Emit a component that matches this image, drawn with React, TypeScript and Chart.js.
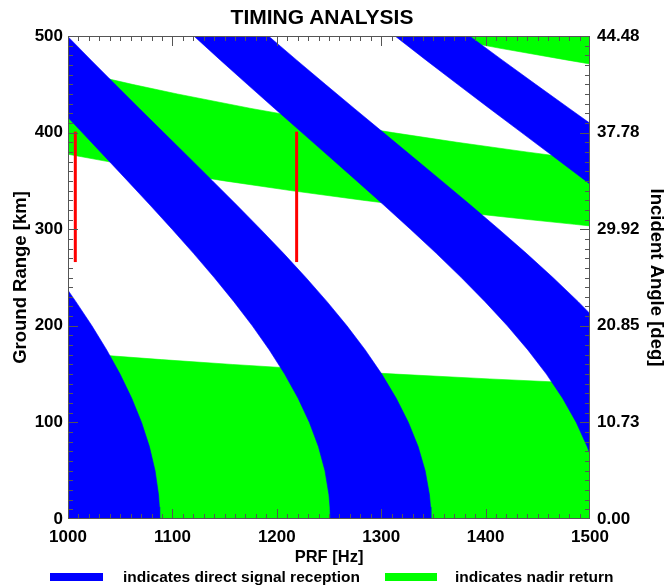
import React, { useEffect, useRef } from "react";
import { Chart, registerables } from "chart.js";

Chart.register(...registerables);

type Pt = [number, number];

// axis values
const prfTicks = [1000, 1100, 1200, 1300, 1400, 1500];
const rangeTicks = [0, 100, 200, 300, 400, 500];
const angleLabels = ["0.00", "10.73", "20.85", "29.92", "37.78", "44.48"];

// blue bands: direct signal reception (outline points, PRF [Hz] / ground range [km])
const blueA: Pt[] = [
  [1000, 0], [1000, 236.8], [1007.53, 225], [1022.91, 200], [1037.09, 175],
  [1049.86, 150], [1061.04, 125], [1070.46, 100], [1077.96, 75], [1083.42, 50],
  [1086.74, 25], [1087.56, 12.5], [1087.85, 0],
];
const blueB: Pt[] = [
  [999.4, 500], [1022.06, 475], [1045.06, 450], [1068.3, 425], [1091.69, 400],
  [1115.15, 375], [1138.51, 350], [1161.63, 325], [1184.36, 300], [1206.49, 275],
  [1227.8, 250], [1248.12, 225], [1267.16, 200], [1284.72, 175], [1300.54, 150],
  [1314.39, 125], [1326.06, 100], [1335.36, 75], [1342.11, 50], [1346.22, 25],
  [1347.25, 12.5], [1347.61, 0],
  [1251.23, 0], [1250.91, 12.5], [1249.95, 25], [1246.14, 50], [1239.86, 75],
  [1231.23, 100], [1220.4, 125], [1207.54, 150], [1192.85, 175], [1176.55, 200],
  [1158.86, 225], [1140.01, 250], [1120.21, 275], [1099.67, 300], [1078.56, 325],
  [1057.09, 350], [1035.4, 375], [1013.63, 400], [1000, 415.7], [999.4, 415.7],
];
const blueC: Pt[] = [
  [1120.57, 500], [1145.98, 475], [1171.75, 450], [1197.82, 425], [1224.06, 400],
  [1250.35, 375], [1276.54, 350], [1302.47, 325], [1327.95, 300], [1352.77, 275],
  [1376.67, 250], [1399.44, 225], [1420.8, 200], [1440.49, 175], [1458.22, 150],
  [1473.74, 125], [1486.83, 100], [1497.27, 75], [1500, 67],
  [1500, 212.6], [1488.69, 225], [1464.48, 250], [1439.04, 275], [1412.65, 300],
  [1385.54, 325], [1357.96, 350], [1330.08, 375], [1302.12, 400], [1274.21, 425],
  [1246.48, 450], [1219.07, 475], [1192.04, 500],
];
const blueD: Pt[] = [
  [1313.21, 500], [1342.98, 475], [1373.19, 450], [1403.72, 425], [1434.48, 400],
  [1465.28, 375], [1495.99, 350], [1500, 346.6],
  [1500, 409.6], [1480.13, 425], [1447.92, 450], [1416.07, 475], [1384.67, 500],
];

// green bands: nadir return
const greenG1: Pt[] = [
  [1000, 465.2], [1061.4, 450], [1104.7, 440], [1175.3, 425], [1253.7, 410],
  [1310.9, 400], [1372.5, 390], [1438.9, 380], [1474.1, 375], [1500, 371.4],
  [1500, 303.4], [1485.4, 305], [1440.8, 310], [1398.3, 315], [1357.8, 320],
  [1319.1, 325], [1282.2, 330], [1213.2, 340], [1149.9, 350], [1091.8, 360],
  [1038.3, 370], [1013.1, 375], [1000, 377.6],
];
const greenG2: Pt[] = [
  [1351.7, 500], [1412.7, 487.5], [1478.5, 475], [1500, 471.05], [1500, 500],
];
const greenG3: Pt[] = [
  [1000, 0], [1000, 172.4], [1027.7, 170], [1089.7, 165], [1157.3, 160],
  [1231.6, 155], [1313.7, 150], [1404.0, 145], [1483.5, 141], [1500, 140.2],
  [1500, 0],
];

// red markers
const markerPRF = [1007, 1219];
const markerRange = [266, 401];

const BLUE = "#0000ff";
const GREEN = "#00ff00";
const RED = "#ff0000";
const FONT = "'Liberation Sans', Arial, Helvetica, sans-serif";

const toXY = (pts: Pt[]) => pts.map(([x, y]) => ({ x, y }));

const poly = (pts: Pt[], color: string) => ({
  data: toXY(pts),
  showLine: true,
  fill: "shape",
  backgroundColor: color,
  borderColor: color,
  borderWidth: 0.6,
  pointRadius: 0,
  tension: 0,
});

const frameTicks = {
  id: "frameTicks",
  afterDatasetsDraw(chart: any) {
    const { ctx, chartArea: a, scales } = chart;
    const sx = scales.x;
    const sy = scales.y;
    ctx.save();
    ctx.strokeStyle = "#555";
    ctx.lineWidth = 1;
    ctx.beginPath();
    for (let v = sx.min + 10; v < sx.max; v += 10) {
      const px = Math.round(sx.getPixelForValue(v)) + 0.5;
      const len = v % 100 === 0 ? 10 : 5;
      ctx.moveTo(px, a.bottom);
      ctx.lineTo(px, a.bottom - len);
      ctx.moveTo(px, a.top);
      ctx.lineTo(px, a.top + len);
    }
    for (let v = sy.min + 10; v < sy.max; v += 10) {
      const py = Math.round(sy.getPixelForValue(v)) + 0.5;
      const len = v % 100 === 0 ? 10 : 5;
      ctx.moveTo(a.left, py);
      ctx.lineTo(a.left + len, py);
      ctx.moveTo(a.right, py);
      ctx.lineTo(a.right - len, py);
    }
    ctx.stroke();
    ctx.strokeRect(a.left + 0.5, a.top + 0.5, a.right - a.left - 1, a.bottom - a.top - 1);
    ctx.restore();
  },
};

export default function App() {
  const ref = useRef<HTMLCanvasElement>(null);

  useEffect(() => {
    const redSets = markerPRF.map((p) => ({
      data: markerRange.map((r) => ({ x: p, y: r })),
      showLine: true,
      fill: false,
      borderColor: RED,
      backgroundColor: RED,
      borderWidth: 3,
      pointRadius: 0,
      borderCapStyle: "butt",
    }));

    const chart = new Chart(ref.current as HTMLCanvasElement, {
      type: "scatter",
      data: {
        datasets: [
          ...redSets,
          poly(blueA, BLUE),
          poly(blueB, BLUE),
          poly(blueC, BLUE),
          poly(blueD, BLUE),
          poly(greenG1, GREEN),
          poly(greenG2, GREEN),
          poly(greenG3, GREEN),
        ] as any,
      },
      options: {
        responsive: false,
        animation: false,
        events: [],
        layout: { padding: { top: 36, left: 0, right: 0, bottom: 0 } },
        font: { family: FONT },
        plugins: {
          legend: { display: false },
          tooltip: { enabled: false },
          title: { display: false },
        },
        scales: {
          x: {
            type: "linear",
            min: 1000,
            max: 1500,
            afterBuildTicks: (s: any) => {
              s.ticks = prfTicks.map((v) => ({ value: v }));
            },
            afterFit: (s: any) => {
              s.height = 69;
            },
            grid: { display: false, drawTicks: false },
            border: { display: false },
            ticks: {
              color: "#000",
              padding: 8,
              maxRotation: 0,
              autoSkip: false,
              font: { family: FONT, size: 17, weight: "bold" },
              callback: (v: any) => String(v),
            },
            title: {
              display: true,
              text: "PRF [Hz]",
              color: "#000",
              font: { family: FONT, size: 16.5, weight: "bold" },
              padding: { top: 0, bottom: 21 },
            },
          },
          y: {
            type: "linear",
            position: "left",
            min: 0,
            max: 500,
            afterBuildTicks: (s: any) => {
              s.ticks = rangeTicks.map((v) => ({ value: v }));
            },
            afterFit: (s: any) => {
              s.width = 68;
            },
            grid: { display: false, drawTicks: false },
            border: { display: false },
            ticks: {
              color: "#000",
              padding: 5,
              font: { family: FONT, size: 17, weight: "bold" },
              callback: (v: any) => String(v),
            },
            title: {
              display: true,
              text: "Ground Range [km]",
              color: "#000",
              font: { family: FONT, size: 18.5, weight: "bold" },
              padding: { top: 10, bottom: 0 },
            },
          },
          y2: {
            type: "linear",
            position: "right",
            min: 0,
            max: 500,
            afterBuildTicks: (s: any) => {
              s.ticks = rangeTicks.map((v) => ({ value: v }));
            },
            afterFit: (s: any) => {
              s.width = 78;
            },
            grid: { display: false, drawTicks: false },
            border: { display: false },
            ticks: {
              color: "#000",
              padding: 7,
              font: { family: FONT, size: 17, weight: "bold" },
              callback: (_v: any, i: number) => angleLabels[i],
            },
            title: {
              display: true,
              text: "Incident Angle [deg]",
              color: "#000",
              font: { family: FONT, size: 18.5, weight: "bold" },
              padding: { top: 1, bottom: 0 },
            },
          },
        },
      } as any,
      plugins: [frameTicks],
    });
    return () => chart.destroy();
  }, []);

  const legendText: React.CSSProperties = {
    position: "absolute",
    top: 569,
    height: 16,
    lineHeight: "16px",
    fontFamily: FONT,
    fontWeight: "bold",
    fontSize: 15.5,
    color: "#000",
    whiteSpace: "nowrap",
  };

  return (
    <div style={{ position: "fixed", left: 0, top: 0, width: 668, height: 588, background: "#fff", overflow: "hidden" }}>
      <canvas ref={ref} width={668} height={588} style={{ display: "block", width: 668, height: 588 }} />
      <div
        style={{
          position: "absolute",
          left: 0,
          top: 5,
          width: 644,
          height: 24,
          lineHeight: "24px",
          textAlign: "center",
          fontFamily: FONT,
          fontWeight: "bold",
          fontSize: 21,
          color: "#000",
          whiteSpace: "nowrap",
        }}
      >
        TIMING ANALYSIS
      </div>
      <div style={{ position: "absolute", left: 50, top: 573, width: 53, height: 8, background: BLUE }} />
      <div style={{ ...legendText, left: 123 }}>indicates direct signal reception</div>
      <div style={{ position: "absolute", left: 385, top: 573, width: 52, height: 8, background: GREEN }} />
      <div style={{ ...legendText, left: 455 }}>indicates nadir return</div>
    </div>
  );
}
